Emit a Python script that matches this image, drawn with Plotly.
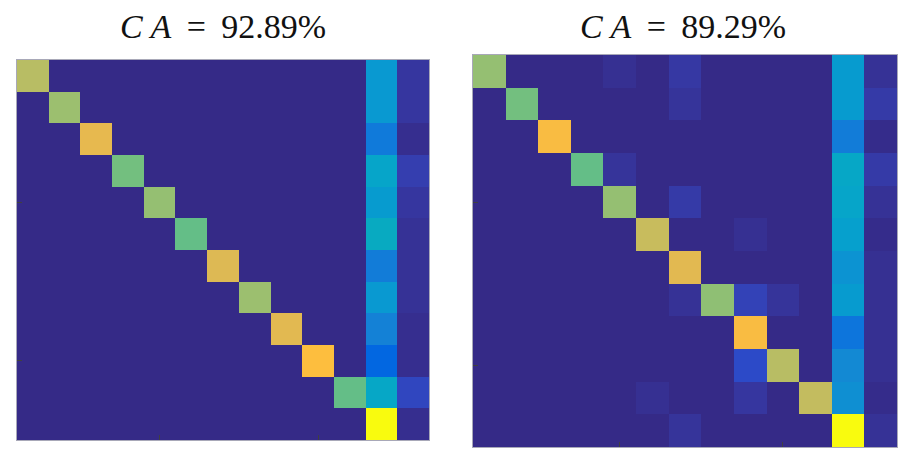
import plotly.graph_objects as go

# parula colormap (MATLAB)
PARULA = [
[0.2081,0.1663,0.5292],[0.2116,0.1898,0.5777],[0.2123,0.2138,0.6270],[0.2081,0.2386,0.6771],
[0.1959,0.2645,0.7279],[0.1707,0.2919,0.7792],[0.1253,0.3242,0.8303],[0.0591,0.3598,0.8683],
[0.0117,0.3875,0.8820],[0.0060,0.4086,0.8828],[0.0165,0.4266,0.8786],[0.0329,0.4430,0.8720],
[0.0498,0.4586,0.8641],[0.0629,0.4737,0.8554],[0.0723,0.4887,0.8467],[0.0779,0.5040,0.8384],
[0.0793,0.5200,0.8312],[0.0749,0.5375,0.8263],[0.0641,0.5570,0.8240],[0.0488,0.5772,0.8228],
[0.0343,0.5966,0.8199],[0.0265,0.6137,0.8135],[0.0239,0.6287,0.8038],[0.0231,0.6418,0.7913],
[0.0228,0.6535,0.7768],[0.0267,0.6642,0.7607],[0.0384,0.6743,0.7436],[0.0590,0.6838,0.7254],
[0.0843,0.6928,0.7062],[0.1133,0.7015,0.6859],[0.1453,0.7098,0.6646],[0.1801,0.7177,0.6424],
[0.2178,0.7250,0.6193],[0.2586,0.7317,0.5954],[0.3022,0.7376,0.5712],[0.3482,0.7424,0.5473],
[0.3953,0.7459,0.5244],[0.4420,0.7481,0.5033],[0.4871,0.7491,0.4840],[0.5300,0.7491,0.4661],
[0.5709,0.7485,0.4494],[0.6099,0.7473,0.4337],[0.6473,0.7456,0.4188],[0.6834,0.7435,0.4044],
[0.7184,0.7411,0.3905],[0.7525,0.7384,0.3768],[0.7858,0.7356,0.3633],[0.8185,0.7327,0.3498],
[0.8507,0.7299,0.3360],[0.8824,0.7274,0.3217],[0.9139,0.7258,0.3063],[0.9450,0.7261,0.2886],
[0.9739,0.7314,0.2666],[0.9938,0.7455,0.2403],[0.9990,0.7653,0.2164],[0.9955,0.7861,0.1967],
[0.9880,0.8066,0.1794],[0.9789,0.8271,0.1633],[0.9697,0.8481,0.1475],[0.9626,0.8705,0.1309],
[0.9589,0.8949,0.1132],[0.9598,0.9218,0.0948],[0.9661,0.9514,0.0755],[0.9763,0.9831,0.0538]]
colorscale = [[i / 63, "rgb(%d,%d,%d)" % tuple(round(c * 255) for c in rgb)] for i, rgb in enumerate(PARULA)]

titles = ["CA = 92.89%", "CA = 89.29%"]
predicted = list(range(1, 14))   # 13 columns
actual = list(range(1, 13))      # 12 rows

# Left confusion matrix (normalised, 12 rows x 13 columns)
cm_left = [
    [0.70, 0, 0, 0, 0, 0, 0, 0, 0, 0, 0, 0.32, 0.03],
    [0, 0.65, 0, 0, 0, 0, 0, 0, 0, 0, 0, 0.32, 0.03],
    [0, 0, 0.79, 0, 0, 0, 0, 0, 0, 0, 0, 0.21, 0.01],
    [0, 0, 0, 0.59, 0, 0, 0, 0, 0, 0, 0, 0.37, 0.05],
    [0, 0, 0, 0, 0.64, 0, 0, 0, 0, 0, 0, 0.33, 0.03],
    [0, 0, 0, 0, 0, 0.57, 0, 0, 0, 0, 0, 0.40, 0.02],
    [0, 0, 0, 0, 0, 0, 0.77, 0, 0, 0, 0, 0.22, 0.02],
    [0, 0, 0, 0, 0, 0, 0, 0.65, 0, 0, 0, 0.32, 0.02],
    [0, 0, 0, 0, 0, 0, 0, 0, 0.78, 0, 0, 0.24, 0.01],
    [0, 0, 0, 0, 0, 0, 0, 0, 0, 0.84, 0, 0.14, 0.01],
    [0, 0, 0, 0, 0, 0, 0, 0, 0, 0, 0.57, 0.38, 0.07],
    [0, 0, 0, 0, 0, 0, 0, 0, 0, 0, 0, 1.00, 0.01],
]

# Right confusion matrix
cm_right = [
    [0.64, 0, 0, 0, 0.015, 0, 0.035, 0, 0, 0, 0, 0.33, 0.02],
    [0, 0.59, 0, 0, 0, 0, 0.025, 0, 0, 0, 0, 0.33, 0.04],
    [0, 0, 0.83, 0, 0, 0, 0, 0, 0, 0, 0, 0.22, 0.005],
    [0, 0, 0, 0.57, 0.025, 0, 0, 0, 0, 0, 0, 0.38, 0.04],
    [0, 0, 0, 0, 0.64, 0, 0.04, 0, 0, 0, 0, 0.37, 0.02],
    [0, 0, 0, 0, 0, 0.73, 0, 0, 0.015, 0, 0, 0.35, 0.005],
    [0, 0, 0, 0, 0, 0, 0.78, 0, 0, 0, 0, 0.30, 0.015],
    [0, 0, 0, 0, 0, 0, 0.02, 0.63, 0.06, 0.025, 0, 0.33, 0.015],
    [0, 0, 0, 0, 0, 0, 0, 0, 0.83, 0, 0, 0.19, 0.015],
    [0, 0, 0, 0, 0, 0, 0, 0, 0.08, 0.70, 0, 0.27, 0.015],
    [0, 0, 0, 0, 0, 0.015, 0, 0, 0.03, 0, 0.72, 0.29, 0.005],
    [0, 0, 0, 0, 0, 0, 0.025, 0, 0, 0, 0, 1.00, 0.02],
]

fig = go.Figure()
for i, cm in enumerate([cm_left, cm_right]):
    fig.add_trace(go.Heatmap(
        z=cm, x=predicted, y=actual, colorscale=colorscale, zmin=0, zmax=1,
        showscale=False, xaxis="x" if i == 0 else "x2", yaxis="y" if i == 0 else "y2",
        xgap=0, ygap=0, hoverinfo="z"))

axis_common = dict(showline=True, mirror=True, linecolor="#a8a8b8", linewidth=1,
                   ticks="inside", ticklen=5, tickcolor="#404040", showticklabels=False,
                   showgrid=False, zeroline=False, tickvals=[5, 10])

fig.update_layout(
    width=909, height=457, margin=dict(l=0, r=0, t=0, b=0),
    paper_bgcolor="white", plot_bgcolor="white", showlegend=False,
    xaxis=dict(domain=[17 / 909, 429 / 909], range=[0.5, 13.5], anchor="y", **axis_common),
    yaxis=dict(domain=[1 - 440 / 457, 1 - 60 / 457], range=[12.5, 0.5], anchor="x", **axis_common),
    xaxis2=dict(domain=[473 / 909, 897 / 909], range=[0.5, 13.5], anchor="y2", **axis_common),
    yaxis2=dict(domain=[1 - 447 / 457, 1 - 55 / 457], range=[12.5, 0.5], anchor="x2", **axis_common),
)

for cx, t in zip([223 / 909, 683 / 909], titles):
    left, right = t.split(" = ")
    fig.add_annotation(
        x=cx, y=1 - 26 / 457, xref="paper", yref="paper", showarrow=False,
        text="<i>C A</i>&#8201; = &#8201;%s" % right,
        font=dict(family="Liberation Serif, DejaVu Serif, serif", size=34, color="#111111"),
        xanchor="center", yanchor="middle")

fig.write_html("out.html")
